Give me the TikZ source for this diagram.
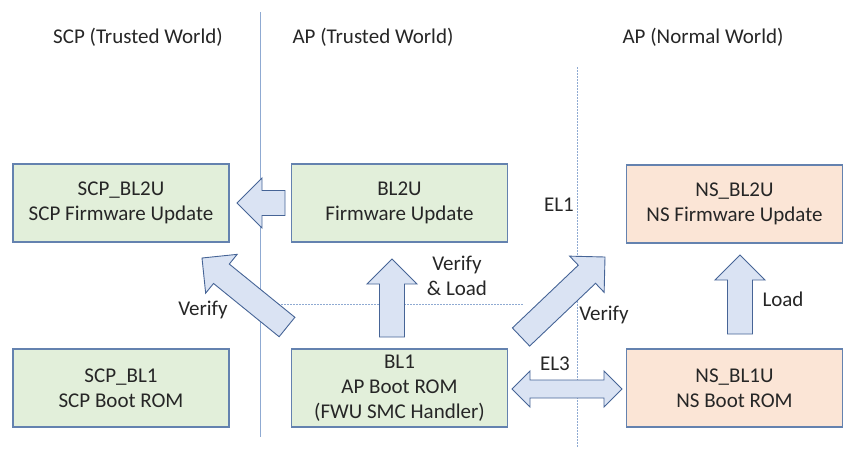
\documentclass[tikz,border=0pt]{standalone}
\usepackage{fontspec}
\setmainfont{Carlito}
\usetikzlibrary{calc}
\definecolor{greenfill}{RGB}{226,239,218}
\definecolor{orangefill}{RGB}{251,229,214}
\definecolor{boxborder}{RGB}{100,130,175}
\definecolor{arrowfill}{RGB}{218,227,243}
\definecolor{arrowborder}{RGB}{70,100,150}
\definecolor{linecol}{RGB}{143,170,210}
\definecolor{txt}{RGB}{38,38,38}
\newcommand{\blockarr}[2]{%
  \coordinate (hb) at ($(#2)!25pt!(#1)$);
  \draw[blockarrow] ($(#1)!12.5pt!90:(#2)$) -- ($(hb)!12.5pt!90:(#2)$) -- ($(hb)!25pt!90:(#2)$) -- (#2)
    -- ($(hb)!25pt!-90:(#2)$) -- ($(hb)!12.5pt!-90:(#2)$) -- ($(#1)!12.5pt!-90:(#2)$) -- cycle;}
\begin{document}
\begin{tikzpicture}[x=1pt,y=-1pt,
  font=\fontsize{21}{25}\selectfont, text=txt,
  box/.style={draw=boxborder, line width=1.2pt, minimum width=216pt, minimum height=78pt, align=center, inner sep=0pt},
  gbox/.style={box, fill=greenfill},
  obox/.style={box, fill=orangefill},
  blockarrow/.style={draw=arrowborder, fill=arrowfill, line width=0.9pt, line join=miter},
  lbl/.style={align=center, inner sep=0pt},
  sep/.style={draw=linecol, line width=0.8pt},
  dotsep/.style={draw=linecol, line width=0.8pt, dash pattern=on 1.5pt off 1.5pt}]
\useasboundingbox (0,0) rectangle (858,448);
% headers
\node[lbl] (h1) at (138,37) {SCP (Trusted World)};
\node[lbl] (h2) at (373,37) {AP (Trusted World)};
\node[lbl] (h3) at (703,37) {AP (Normal World)};
% separators
\coordinate (s1t) at (260,12); \coordinate (s1b) at (260,437);
\coordinate (s2t) at (577,67); \coordinate (s2b) at (577,448);
\coordinate (s3l) at (263,304); \coordinate (s3r) at (524,304);
\draw[sep] (s1t) -- (s1b);
\draw[dotsep] (s2t) -- (s2b);
\draw[dotsep] (s3l) -- (s3r);
% boxes
\node[gbox] (scpbl2u) at (121,203) {SCP\_BL2U\\SCP Firmware Update};
\node[gbox] (bl2u) at (399.5,203) {BL2U\\Firmware Update};
\node[gbox] (scpbl1) at (121,388) {SCP\_BL1\\SCP Boot ROM};
\node[gbox] (bl1) at (399.5,388) {BL1\\AP Boot ROM\\(FWU SMC Handler)};
\node[obox] (nsbl2u) at (734.5,204) {NS\_BL2U\\NS Firmware Update};
\node[obox] (nsbl1u) at (734.5,388) {NS\_BL1U\\NS Boot ROM};
% arrow endpoints
\coordinate (a1s) at (285,203); \coordinate (a1t) at (237,203);
\coordinate (a2s) at (392,337); \coordinate (a2t) at (392,259);
\coordinate (a3s) at (287,327); \coordinate (a3t) at (202,258);
\coordinate (a4s) at (521,337); \coordinate (a4t) at (605,257);
\coordinate (a5s) at (740,334); \coordinate (a5t) at (740,255);
\blockarr{a1s}{a1t}
\blockarr{a2s}{a2t}
\blockarr{a3s}{a3t}
\blockarr{a4s}{a4t}
\blockarr{a5s}{a5t}
% double arrow
\coordinate (dl) at (512,389); \coordinate (dr) at (622,389);
\draw[blockarrow] (dl) -- ($(dl)+(18,-18)$) -- ($(dl)+(18,-9)$) -- ($(dr)+(-18,-9)$) -- ($(dr)+(-18,-18)$) -- (dr)
  -- ($(dr)+(-18,18)$) -- ($(dr)+(-18,9)$) -- ($(dl)+(18,9)$) -- ($(dl)+(18,18)$) -- cycle;
% labels
\node[lbl] (v1) at (203,310) {Verify};
\node[lbl] (v2) at (457,276) {Verify\\\& Load};
\node[lbl] (el1) at (559,205) {EL1};
\node[lbl] (v3) at (604,315) {Verify};
\node[lbl] (el3) at (555,364) {EL3};
\node[lbl] (ld) at (783,299) {Load};
\end{tikzpicture}
\end{document}
